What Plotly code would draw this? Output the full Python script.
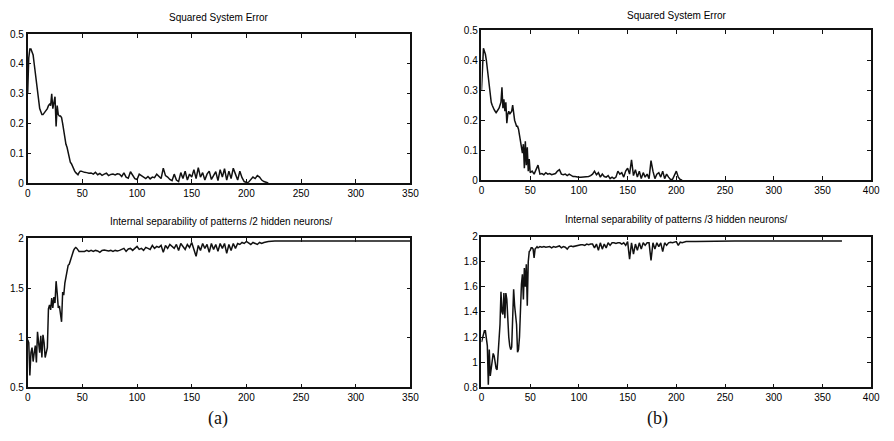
import plotly.graph_objects as go

# ---------------- data ----------------
# (a) squared system error, epochs 0..50 step 1, then 52.. step 2
err_a_head = [0.30, 0.42, 0.45, 0.45, 0.44, 0.43, 0.40, 0.37, 0.34, 0.30,
              0.27, 0.25, 0.24, 0.23, 0.23, 0.235, 0.24, 0.245, 0.25, 0.26,
              0.265, 0.26, 0.30, 0.25, 0.27, 0.29, 0.19, 0.26, 0.23, 0.225,
              0.225, 0.22, 0.20, 0.17, 0.15, 0.13, 0.12, 0.10, 0.08, 0.07,
              0.065, 0.055, 0.05, 0.04, 0.035, 0.03, 0.028, 0.035, 0.04, 0.04,
              0.038]
err_a_tail = [0.036, 0.035, 0.033, 0.034, 0.030, 0.036, 0.028, 0.032, 0.026, 0.030,
              0.033, 0.025, 0.029, 0.030, 0.027, 0.031, 0.030, 0.022, 0.034, 0.020,
              0.016, 0.038, 0.025, 0.015, 0.012, 0.030, 0.025, 0.020, 0.015, 0.022,
              0.014, 0.020, 0.018, 0.030, 0.022, 0.015, 0.050, 0.025, 0.020, 0.012,
              0.008, 0.030, 0.010, 0.005, 0.035, 0.015, 0.040, 0.010, 0.030, 0.020,
              0.045, 0.015, 0.052, 0.020, 0.035, 0.010, 0.030, 0.040, 0.012, 0.025,
              0.038, 0.008, 0.045, 0.020, 0.048, 0.010, 0.040, 0.015, 0.050, 0.030,
              0.010, 0.040, 0.018, 0.005, 0.002, 0.003, 0.010, 0.020, 0.015, 0.025,
              0.020, 0.010, 0.005, 0.002, 0.000]

# (a) internal separability, 2 hidden neurons
sep_a_head = [0.98, 0.95, 0.62, 0.85, 0.90, 0.76, 0.85, 0.92, 0.75, 1.06,
              0.95, 0.85, 1.02, 0.80, 1.03, 0.95, 0.80, 0.85, 0.90, 1.29,
              1.33, 1.28, 1.40, 1.30, 1.41, 1.35, 1.57, 1.45, 1.30, 1.32,
              1.25, 1.16, 1.46, 1.43, 1.55, 1.62, 1.70, 1.73, 1.74, 1.78,
              1.82, 1.86, 1.88, 1.90, 1.91, 1.90, 1.88, 1.87, 1.87, 1.87,
              1.87]
sep_a_tail = [1.87, 1.88, 1.87, 1.88, 1.87, 1.88, 1.875, 1.86, 1.88, 1.885,
              1.88, 1.875, 1.88, 1.87, 1.88, 1.875, 1.88, 1.89, 1.90, 1.87,
              1.895, 1.90, 1.88, 1.90, 1.92, 1.89, 1.90, 1.88, 1.91, 1.90,
              1.89, 1.93, 1.90, 1.92, 1.91, 1.93, 1.86, 1.93, 1.90, 1.94,
              1.92, 1.90, 1.94, 1.88, 1.95, 1.92, 1.89, 1.94, 1.91, 1.96,
              1.90, 1.82, 1.93, 1.88, 1.95, 1.90, 1.94, 1.86, 1.95, 1.89,
              1.94, 1.87, 1.95, 1.90, 1.95, 1.85, 1.94, 1.88, 1.95, 1.90,
              1.95, 1.94, 1.96, 1.95, 1.97, 1.95, 1.94, 1.96, 1.95, 1.94,
              1.96, 1.95, 1.96, 1.965, 1.97]
sep_a_end_x = [226, 350]
sep_a_end_y = [1.975, 1.975]

# (b) squared system error
err_b_head = [0.30, 0.40, 0.44, 0.43, 0.42, 0.40, 0.37, 0.34, 0.31, 0.28,
              0.26, 0.25, 0.24, 0.235, 0.23, 0.225, 0.23, 0.235, 0.24, 0.25,
              0.26, 0.31, 0.24, 0.27, 0.23, 0.26, 0.19, 0.22, 0.23, 0.22,
              0.225, 0.23, 0.25, 0.21, 0.20, 0.19, 0.18, 0.18, 0.17, 0.15,
              0.13, 0.11, 0.09, 0.12, 0.04, 0.13, 0.05, 0.11, 0.03, 0.07,
              0.025]
err_b_tail = [0.030, 0.020, 0.035, 0.050, 0.020, 0.022, 0.018, 0.025, 0.020, 0.022,
              0.018, 0.020, 0.022, 0.030, 0.035, 0.020, 0.018, 0.020, 0.015, 0.020,
              0.015, 0.012, 0.012, 0.010, 0.010, 0.010, 0.010, 0.010, 0.010, 0.012,
              0.015, 0.020, 0.030, 0.018, 0.025, 0.010, 0.020, 0.012, 0.010, 0.015,
              0.005, 0.010, 0.005, 0.010, 0.030, 0.020, 0.025, 0.010, 0.030, 0.040,
              0.020, 0.068, 0.015, 0.035, 0.010, 0.030, 0.005, 0.025, 0.010, 0.020,
              0.005, 0.065, 0.030, 0.005, 0.020, 0.025, 0.010, 0.030, 0.005, 0.020,
              0.010, 0.002, 0.002, 0.015, 0.030, 0.010, 0.002, 0.000]

# (b) internal separability, 3 hidden neurons
sep_b_head = [1.16, 1.20, 1.22, 1.25, 1.25, 1.20, 1.13, 0.82, 1.10, 0.89,
              0.95, 1.00, 1.07, 1.05, 1.00, 0.95, 0.94, 1.05, 1.12, 1.30,
              1.56, 1.40, 1.38, 1.55, 1.35, 1.55, 1.50, 1.32, 1.20, 1.13,
              1.10, 1.12, 1.30, 1.58, 1.45, 1.38, 1.30, 1.08, 1.10, 1.20,
              1.45, 1.62, 1.70, 1.50, 1.75, 1.60, 1.78, 1.45, 1.80, 1.88,
              1.89, 1.91, 1.91, 1.90, 1.83, 1.90, 1.91, 1.92]
sep_b_tail = [1.91, 1.92, 1.915, 1.92, 1.915, 1.92, 1.92, 1.91, 1.92, 1.915,
              1.92, 1.925, 1.91, 1.92, 1.915, 1.90, 1.92, 1.925, 1.92, 1.925,
              1.93, 1.93, 1.935, 1.935, 1.93, 1.94, 1.935, 1.94, 1.94, 1.91,
              1.94, 1.89, 1.95, 1.90, 1.94, 1.91, 1.95, 1.93, 1.95, 1.95,
              1.945, 1.95, 1.95, 1.94, 1.95, 1.93, 1.96, 1.82, 1.95, 1.86,
              1.94, 1.89, 1.95, 1.90, 1.95, 1.93, 1.95, 1.95, 1.81, 1.95,
              1.90, 1.95, 1.92, 1.95, 1.88, 1.95, 1.93, 1.95, 1.955, 1.95,
              1.955, 1.96, 1.93, 1.955, 1.95, 1.955, 1.96]
sep_b_end_x = [220, 260, 370]
sep_b_end_y = [1.96, 1.965, 1.965]

x_ticks_a = [0, 50, 100, 150, 200, 250, 300, 350]
x_ticks_b = [0, 50, 100, 150, 200, 250, 300, 350, 400]
y_ticks_err = [0, 0.1, 0.2, 0.3, 0.4, 0.5]
y_text_err = ["0", "0.1", "0.2", "0.3", "0.4", "0.5"]
y_ticks_sep_a = [0.5, 1, 1.5, 2]
y_text_sep_a = ["0.5", "1", "1.5", "2"]
y_ticks_sep_b = [0.8, 1, 1.2, 1.4, 1.6, 1.8, 2]
y_text_sep_b = ["0.8", "1", "1.2", "1.4", "1.6", "1.8", "2"]

title_err = "Squared System Error"
title_sep_a = "Internal separability of patterns /2 hidden neurons/"
title_sep_b = "Internal separability of patterns /3 hidden neurons/"


def series(head, tail, start_tail, step, end_x=None, end_y=None):
    xs = list(range(len(head))) + [start_tail + step * i for i in range(len(tail))]
    ys = list(head) + list(tail)
    if end_x:
        xs += list(end_x)
        ys += list(end_y)
    return xs, ys


W, H = 894, 441
def px_x(a, b):
    return [a / W, b / W]
def px_y(top, bottom):
    return [1 - bottom / H, 1 - top / H]

fig = go.Figure()
line = dict(color="#111111", width=1.5)

x1, y1 = series(err_a_head, err_a_tail, 52, 2)
x2, y2 = series(err_b_head, err_b_tail, 52, 2)
x3, y3 = series(sep_a_head, sep_a_tail, 52, 2, sep_a_end_x, sep_a_end_y)
x4, y4 = series(sep_b_head, sep_b_tail, 58, 2, sep_b_end_x, sep_b_end_y)

fig.add_trace(go.Scatter(x=x1, y=y1, mode="lines", line=line, xaxis="x", yaxis="y"))
fig.add_trace(go.Scatter(x=x2, y=y2, mode="lines", line=line, xaxis="x2", yaxis="y2"))
fig.add_trace(go.Scatter(x=x3, y=y3, mode="lines", line=line, xaxis="x3", yaxis="y3"))
fig.add_trace(go.Scatter(x=x4, y=y4, mode="lines", line=line, xaxis="x4", yaxis="y4"))

tickfont = dict(family="Liberation Sans, Arial, sans-serif", size=10, color="#000")
common = dict(showline=True, linecolor="#111", linewidth=1.5, mirror="ticks",
              ticks="inside", ticklen=4, tickcolor="#111", tickwidth=1,
              showgrid=False, zeroline=False, tickfont=tickfont, fixedrange=True)

dom_a = px_x(25, 413)
dom_b = px_x(485, 880)
fig.update_layout(
    width=W, height=H, margin=dict(l=0, r=0, t=0, b=0),
    paper_bgcolor="white", plot_bgcolor="white", showlegend=False,
    xaxis=dict(domain=dom_a, range=[0, 350], tickvals=x_ticks_a, anchor="y", **common),
    yaxis=dict(domain=px_y(29, 182), range=[0, 0.5], tickvals=y_ticks_err,
               ticktext=y_text_err, anchor="x", **common),
    xaxis2=dict(domain=dom_b, range=[0, 400], tickvals=x_ticks_b, anchor="y2", **common),
    yaxis2=dict(domain=px_y(25, 179), range=[0, 0.5], tickvals=y_ticks_err,
                ticktext=y_text_err, anchor="x2", **common),
    xaxis3=dict(domain=dom_a, range=[0, 350], tickvals=x_ticks_a, anchor="y3", **common),
    yaxis3=dict(domain=px_y(239, 392), range=[0.5, 2], tickvals=y_ticks_sep_a,
                ticktext=y_text_sep_a, anchor="x3", **common),
    xaxis4=dict(domain=dom_b, range=[0, 400], tickvals=x_ticks_b, anchor="y4", **common),
    yaxis4=dict(domain=px_y(237, 392), range=[0.8, 2], tickvals=y_ticks_sep_b,
                ticktext=y_text_sep_b, anchor="x4", **common),
)

tfont = dict(family="Liberation Sans, Arial, sans-serif", size=10, color="#000")
def ann(text, xp, yp, font):
    fig.add_annotation(text=text, x=xp / W, y=1 - yp / H, xref="paper", yref="paper",
                       showarrow=False, xanchor="center", yanchor="middle", font=font)

ann(title_err, 219, 12, tfont)
ann(title_err, 683, 10, tfont)
ann(title_sep_a, 221, 222, tfont)
ann(title_sep_b, 683, 219, tfont)
lfont = dict(family="Liberation Serif, Times New Roman, serif", size=18, color="#111")
ann("(a)", 218, 424, lfont)
ann("(b)", 663, 424, lfont)

fig.write_html("out.html", config={"displayModeBar": False},
               post_script="document.body.style.margin='0';")
